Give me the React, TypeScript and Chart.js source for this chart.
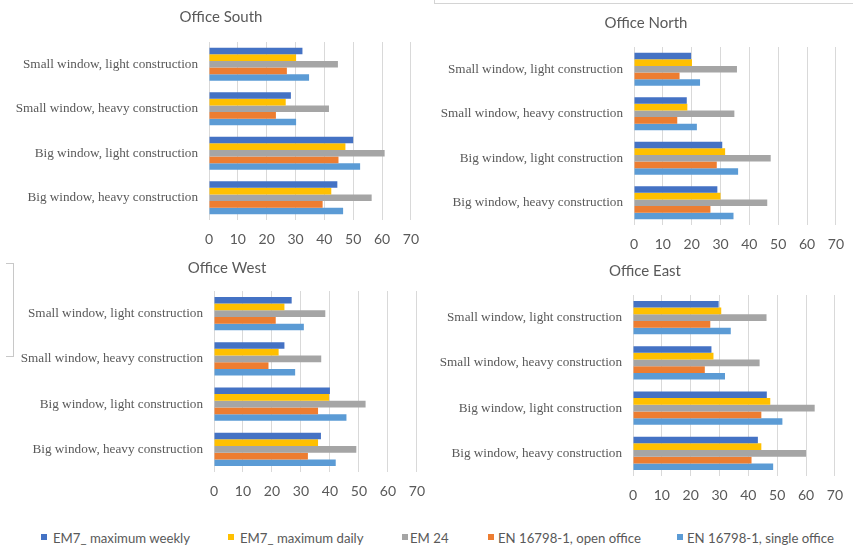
import React, { useEffect, useRef } from "react";
import { Chart, registerables } from "chart.js";

Chart.register(...registerables);

// ---------- DATA ----------
const categories = [
  "Small window, light construction",
  "Small window, heavy construction",
  "Big window, light construction",
  "Big window, heavy construction",
];
const seriesNames = [
  "EM7_ maximum weekly",
  "EM7_ maximum daily",
  "EM 24",
  "EN 16798-1, open office",
  "EN 16798-1, single office",
];
const seriesColors = ["#4472C4", "#FFC000", "#A5A5A5", "#ED7D31", "#5B9BD5"];
const xTicks = [0, 10, 20, 30, 40, 50, 60, 70];

// Office South
const southWeekly = [32.4, 28.4, 50.0, 44.5];
const southDaily = [30.2, 26.6, 47.3, 42.4];
const southEM24 = [44.7, 41.6, 60.9, 56.4];
const southOpen = [27.0, 23.2, 44.9, 39.4];
const southSingle = [34.7, 30.2, 52.4, 46.5];

// Office North
const northWeekly = [19.8, 18.3, 30.6, 28.9];
const northDaily = [20.1, 18.5, 31.6, 30.0];
const northEM24 = [35.7, 34.8, 47.4, 46.2];
const northOpen = [15.8, 15.0, 28.7, 26.5];
const northSingle = [22.9, 21.8, 36.1, 34.5];

// Office West
const westWeekly = [26.8, 24.3, 40.0, 36.9];
const westDaily = [24.3, 22.3, 39.7, 35.9];
const westEM24 = [38.4, 37.0, 52.3, 49.1];
const westOpen = [21.3, 18.8, 35.9, 32.4];
const westSingle = [31.0, 28.0, 45.7, 42.0];

// Office East
const eastWeekly = [29.7, 27.2, 46.4, 43.3];
const eastDaily = [30.6, 27.9, 47.6, 44.5];
const eastEM24 = [46.3, 43.9, 63.0, 60.0];
const eastOpen = [26.8, 24.9, 44.5, 41.1];
const eastSingle = [33.9, 31.9, 51.8, 48.6];

// ---------- STYLE ----------
const TEXT = "#595959";
const GRID = "#d9d9d9";
const SANS = "Lato, 'Liberation Sans', sans-serif";
const SERIF = "'Liberation Serif', 'Times New Roman', serif";

type Geo = {
  left: number;
  top: number;
  width: number;
  height: number;
  padLeft: number;
  padRight: number;
  yWidth: number;
  tTop: number;
  tBottom: number;
};

// lets the category labels run into the left padding instead of being clipped
const unclipLabels = {
  id: "unclipLabels",
  afterLayout(chart: any) {
    if (chart.scales && chart.scales.y) chart.scales.y.left = 0;
  },
};

function Panel({ title, series, geo }: { title: string; series: number[][]; geo: Geo }) {
  const ref = useRef<HTMLCanvasElement | null>(null);
  useEffect(() => {
    if (!ref.current) return;
    const chart = new Chart(ref.current, {
      type: "bar",
      data: {
        labels: categories,
        datasets: series.map((vals, i) => ({
          label: seriesNames[i],
          data: vals,
          backgroundColor: seriesColors[i],
          borderWidth: 0,
          categoryPercentage: 0.74,
          barPercentage: 1.0,
        })),
      },
      plugins: [unclipLabels],
      options: {
        indexAxis: "y",
        animation: false,
        responsive: false,
        devicePixelRatio: 1,
        layout: { padding: { left: geo.padLeft, right: geo.padRight, top: 0, bottom: 0 } },
        plugins: {
          legend: { display: false },
          tooltip: { enabled: false },
          title: {
            display: true,
            text: title,
            color: TEXT,
            font: { family: SANS, size: 15, weight: "normal", lineHeight: 1.2 },
            padding: { top: geo.tTop, bottom: geo.tBottom },
          },
        },
        scales: {
          x: {
            type: "linear",
            min: 0,
            max: 70,
            afterBuildTicks: (s: any) => {
              s.ticks = xTicks.map((v) => ({ value: v }));
            },
            afterFit: (s: any) => {
              s.height = 30;
            },
            grid: { color: GRID, lineWidth: 1, drawTicks: false },
            border: { display: false },
            ticks: { color: TEXT, padding: 11, font: { family: SANS, size: 14 } },
          },
          y: {
            type: "category",
            afterFit: (s: any) => {
              s.width = geo.yWidth;
            },
            grid: { display: false, drawTicks: false },
            border: { display: false },
            ticks: { color: TEXT, padding: 11, font: { family: SERIF, size: 13.2 } },
          },
        },
      },
    } as any);
    return () => chart.destroy();
  }, []);
  return (
    <canvas
      ref={ref}
      width={geo.width}
      height={geo.height}
      style={{
        position: "absolute",
        left: geo.left,
        top: geo.top,
        width: geo.width,
        height: geo.height,
      }}
    />
  );
}

const legendMarkerX = [41, 228, 402, 488, 677];
const legendTextX = [53, 240, 410, 498, 687];

export default function App() {
  return (
    <div
      style={{
        position: "absolute",
        left: 0,
        top: 0,
        width: 853,
        height: 549,
        background: "#fff",
        overflow: "hidden",
      }}
    >
      <div
        style={{
          position: "absolute",
          left: 434,
          top: -10,
          width: 440,
          height: 13,
          borderLeft: "1px solid #d4d4d4",
          borderBottom: "1px solid #d4d4d4",
        }}
      />
      <div
        style={{
          position: "absolute",
          left: 6,
          top: 263,
          width: 7,
          height: 92,
          borderTop: "1px solid #c8c8c8",
          borderRight: "1px solid #c8c8c8",
          borderBottom: "1px solid #c8c8c8",
        }}
      />
      <Panel
        title="Office South"
        series={[southWeekly, southDaily, southEM24, southOpen, southSingle]}
        geo={{ left: 0, top: 0, width: 430, height: 250, padLeft: 28, padRight: 16, yWidth: 181, tTop: 8, tBottom: 16 }}
      />
      <Panel
        title="Office North"
        series={[northWeekly, northDaily, northEM24, northOpen, northSingle]}
        geo={{ left: 420, top: 0, width: 435, height: 255, padLeft: 33, padRight: 16, yWidth: 181, tTop: 14, tBottom: 15 }}
      />
      <Panel
        title="Office West"
        series={[westWeekly, westDaily, westEM24, westOpen, westSingle]}
        geo={{ left: 0, top: 250, width: 436, height: 252, padLeft: 34, padRight: 16, yWidth: 180, tTop: 9, tBottom: 14 }}
      />
      <Panel
        title="Office East"
        series={[eastWeekly, eastDaily, eastEM24, eastOpen, eastSingle]}
        geo={{ left: 420, top: 250, width: 434, height: 256, padLeft: 32, padRight: 16, yWidth: 181, tTop: 12, tBottom: 15 }}
      />
      {seriesNames.map((name, i) => (
        <React.Fragment key={name}>
          <div
            style={{
              position: "absolute",
              left: legendMarkerX[i],
              top: 534,
              width: 6,
              height: 6,
              background: seriesColors[i],
            }}
          />
          <div
            style={{
              position: "absolute",
              left: legendTextX[i],
              top: 529,
              height: 18,
              lineHeight: "18px",
              fontFamily: SANS,
              fontSize: 13.2,
              color: TEXT,
              whiteSpace: "nowrap",
            }}
          >
            {name}
          </div>
        </React.Fragment>
      ))}
    </div>
  );
}
